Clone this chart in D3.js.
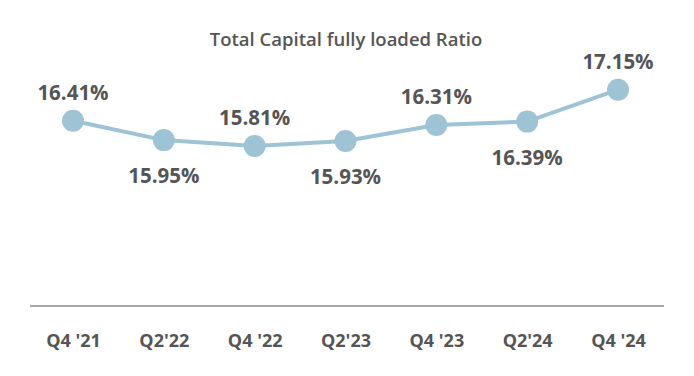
<!DOCTYPE html>
<html><head><meta charset="utf-8">
<script src="https://cdn.jsdelivr.net/npm/d3@7"></script>
<style>body{margin:0;background:#fff}svg{display:block}</style>
</head><body><svg id="c" width="694" height="376"></svg>
<script>
const categories = ["Q4 '21","Q2'22","Q4 '22","Q2'23","Q4 '23","Q2'24","Q4 '24"];
const values = [16.41,15.95,15.81,15.93,16.31,16.39,17.15];
const labelPos = ["above","below","above","below","above","below","above"];
const title = "Total Capital fully loaded Ratio";

const svg = d3.select("#c");
const font = "'Open Sans', sans-serif";
const x = d3.scalePoint().domain(categories).range([73,618]);
const y = d3.scaleLinear().domain([12,18]).range([306,54]);

svg.append("text").attr("x",346).attr("y",46).attr("text-anchor","middle")
  .attr("font-family",font).attr("font-weight",600).attr("font-size",18.5)
  .attr("fill","#555").text(title);

svg.append("line").attr("x1",30).attr("x2",664).attr("y1",306).attr("y2",306)
  .attr("stroke","#a6a6a6").attr("stroke-width",2);

const axis = d3.axisBottom(x).tickSize(0).tickPadding(0);
const ag = svg.append("g").attr("transform","translate(0,306)").call(axis);
ag.select(".domain").remove();
ag.selectAll("text").attr("y",41).attr("dy",0).attr("font-family",font).attr("font-weight",700)
  .attr("font-size",18).attr("fill","#555");

const line = d3.line().x((d,i)=>x(categories[i])).y(d=>y(d));
svg.append("path").datum(values).attr("d",line).attr("fill","none")
  .attr("stroke","#9dc3d5").attr("stroke-width",4);

svg.selectAll("circle.pt").data(values).join("circle").attr("class","pt")
  .attr("cx",(d,i)=>x(categories[i])).attr("cy",d=>y(d)).attr("r",11).attr("fill","#9dc3d5");

svg.selectAll("text.lbl").data(values).join("text").attr("class","lbl")
  .attr("x",(d,i)=>x(categories[i]))
  .attr("y",(d,i)=>y(d)+(labelPos[i]==="above"?-21:43))
  .attr("text-anchor","middle").attr("font-family",font).attr("font-weight",700)
  .attr("font-size",20.5).attr("fill","#555")
  .text(d=>d.toFixed(2)+"%");
</script></body></html>
